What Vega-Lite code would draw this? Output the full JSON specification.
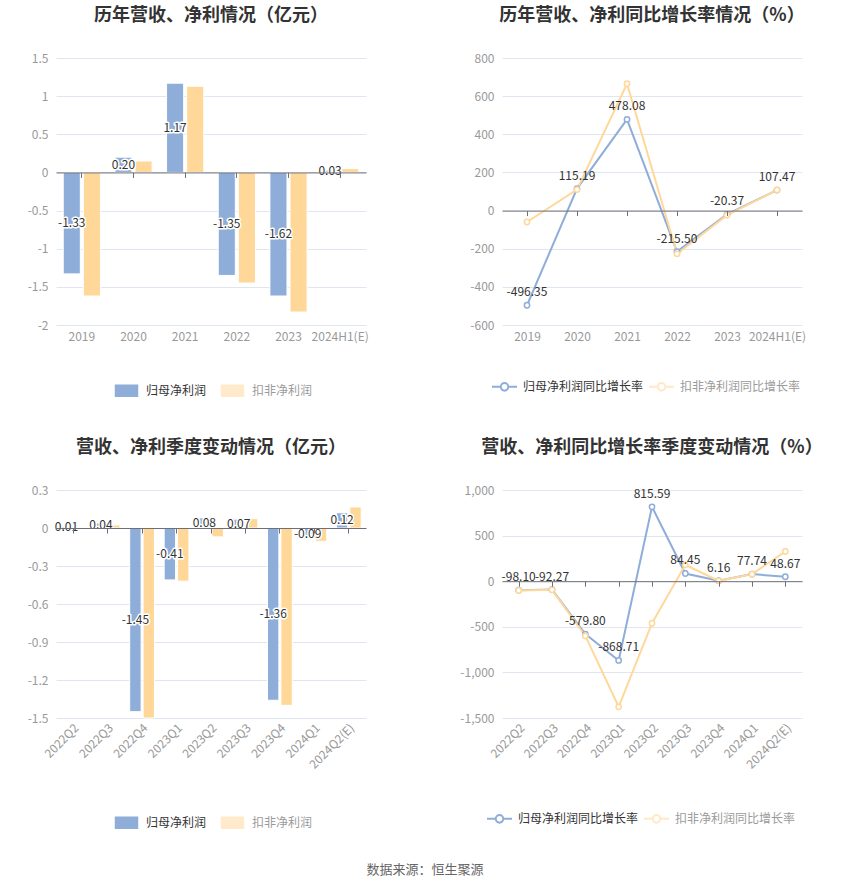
{
  "$schema": "https://vega.github.io/schema/vega-lite/v6.json",
  "background": "#ffffff",
  "padding": {"left": 27, "top": 7, "right": 10, "bottom": 10},
  "datasets": {
    "annualBar": [
      {"period": "2019", "series": "归母净利润", "value": -1.33},
      {"period": "2019", "series": "扣非净利润", "value": -1.62},
      {"period": "2020", "series": "归母净利润", "value": 0.20},
      {"period": "2020", "series": "扣非净利润", "value": 0.15},
      {"period": "2021", "series": "归母净利润", "value": 1.17},
      {"period": "2021", "series": "扣非净利润", "value": 1.13},
      {"period": "2022", "series": "归母净利润", "value": -1.35},
      {"period": "2022", "series": "扣非净利润", "value": -1.45},
      {"period": "2023", "series": "归母净利润", "value": -1.62},
      {"period": "2023", "series": "扣非净利润", "value": -1.83},
      {"period": "2024H1(E)", "series": "归母净利润", "value": 0.03},
      {"period": "2024H1(E)", "series": "扣非净利润", "value": 0.05}
    ],
    "annualGrowth": [
      {"period": "2019", "series": "归母净利润同比增长率", "value": -496.35},
      {"period": "2020", "series": "归母净利润同比增长率", "value": 115.19},
      {"period": "2021", "series": "归母净利润同比增长率", "value": 478.08},
      {"period": "2022", "series": "归母净利润同比增长率", "value": -215.50},
      {"period": "2023", "series": "归母净利润同比增长率", "value": -20.37},
      {"period": "2024H1(E)", "series": "归母净利润同比增长率", "value": 107.47},
      {"period": "2019", "series": "扣非净利润同比增长率", "value": -60},
      {"period": "2020", "series": "扣非净利润同比增长率", "value": 110},
      {"period": "2021", "series": "扣非净利润同比增长率", "value": 665},
      {"period": "2022", "series": "扣非净利润同比增长率", "value": -227},
      {"period": "2023", "series": "扣非净利润同比增长率", "value": -24},
      {"period": "2024H1(E)", "series": "扣非净利润同比增长率", "value": 108}
    ],
    "quarterBar": [
      {"period": "2022Q2", "series": "归母净利润", "value": 0.01},
      {"period": "2022Q2", "series": "扣非净利润", "value": 0.003},
      {"period": "2022Q3", "series": "归母净利润", "value": 0.04},
      {"period": "2022Q3", "series": "扣非净利润", "value": 0.024},
      {"period": "2022Q4", "series": "归母净利润", "value": -1.45},
      {"period": "2022Q4", "series": "扣非净利润", "value": -1.50},
      {"period": "2023Q1", "series": "归母净利润", "value": -0.41},
      {"period": "2023Q1", "series": "扣非净利润", "value": -0.42},
      {"period": "2023Q2", "series": "归母净利润", "value": 0.08},
      {"period": "2023Q2", "series": "扣非净利润", "value": -0.07},
      {"period": "2023Q3", "series": "归母净利润", "value": 0.07},
      {"period": "2023Q3", "series": "扣非净利润", "value": 0.074},
      {"period": "2023Q4", "series": "归母净利润", "value": -1.36},
      {"period": "2023Q4", "series": "扣非净利润", "value": -1.40},
      {"period": "2024Q1", "series": "归母净利润", "value": -0.09},
      {"period": "2024Q1", "series": "扣非净利润", "value": -0.105},
      {"period": "2024Q2(E)", "series": "归母净利润", "value": 0.12},
      {"period": "2024Q2(E)", "series": "扣非净利润", "value": 0.166}
    ],
    "quarterGrowth": [
      {"period": "2022Q2", "series": "归母净利润同比增长率", "value": -98.10},
      {"period": "2022Q3", "series": "归母净利润同比增长率", "value": -92.27},
      {"period": "2022Q4", "series": "归母净利润同比增长率", "value": -579.80},
      {"period": "2023Q1", "series": "归母净利润同比增长率", "value": -868.71},
      {"period": "2023Q2", "series": "归母净利润同比增长率", "value": 815.59},
      {"period": "2023Q3", "series": "归母净利润同比增长率", "value": 84.45},
      {"period": "2023Q4", "series": "归母净利润同比增长率", "value": 6.16},
      {"period": "2024Q1", "series": "归母净利润同比增长率", "value": 77.74},
      {"period": "2024Q2(E)", "series": "归母净利润同比增长率", "value": 48.67},
      {"period": "2022Q2", "series": "扣非净利润同比增长率", "value": -102},
      {"period": "2022Q3", "series": "扣非净利润同比增长率", "value": -95},
      {"period": "2022Q4", "series": "扣非净利润同比增长率", "value": -600},
      {"period": "2023Q1", "series": "扣非净利润同比增长率", "value": -1377},
      {"period": "2023Q2", "series": "扣非净利润同比增长率", "value": -461},
      {"period": "2023Q3", "series": "扣非净利润同比增长率", "value": 180},
      {"period": "2023Q4", "series": "扣非净利润同比增长率", "value": 4},
      {"period": "2024Q1", "series": "扣非净利润同比增长率", "value": 77},
      {"period": "2024Q2(E)", "series": "扣非净利润同比增长率", "value": 326}
    ]
  },
  "title": {
    "text": "数据来源：恒生聚源",
    "orient": "bottom",
    "anchor": "middle",
    "fontSize": 13,
    "fontWeight": "normal",
    "color": "#666666",
    "offset": 31
  },
  "columns": 2,
  "bounds": "flush",
  "spacing": {"row": 165, "column": 136},
  "resolve": {"scale": {"color": "independent", "xOffset": "independent", "x": "independent", "y": "independent"}, "legend": {"color": "independent"}},
  "concat": [
    {
      "width": 310,
      "height": 267,
      "title": {"text": "历年营收、净利情况（亿元）", "offset": 27},
      "data": {"name": "annualBar"},
      "layer": [
        {
          "mark": {"type": "bar", "stroke": "#ffffff", "strokeWidth": 1},
          "encoding": {
            "x": {"field": "period", "type": "nominal", "sort": null, "title": null,
              "scale": {"paddingInner": 0.28, "paddingOuter": 0.14},
              "axis": {"labelAngle": 0, "labelPadding": 6, "ticks": false, "domain": false, "grid": false}},
            "xOffset": {"field": "series", "type": "nominal", "scale": {"domain": ["归母净利润", "扣非净利润"], "paddingInner": 0.15}},
            "y": {"field": "value", "type": "quantitative", "title": null,
              "scale": {"domain": [-2, 1.5], "nice": false, "zero": false},
              "axis": {"values": [-2, -1.5, -1, -0.5, 0, 0.5, 1, 1.5], "format": "~g", "grid": true, "labelPadding": 8}},
            "color": {"field": "series", "type": "nominal",
              "scale": {"domain": ["归母净利润", "扣非净利润"], "range": ["#8fadd9", "#ffd899"]},
              "legend": {"orient": "none", "legendX": 57, "legendY": 319, "direction": "horizontal", "title": null,
                "symbolType": "M-1,-0.56H1V0.56H-1Z", "symbolSize": 625, "labelOffset": 6, "columnPadding": 10,
                "labelColor": {"expr": "datum.value === '扣非净利润' ? '#9a9a9a' : '#333333'"},
                "symbolOpacity": {"expr": "datum.value === '扣非净利润' ? 0.5 : 1"}}}
          }
        },
        {
          "transform": [{"filter": "datum.series === '归母净利润'"}],
          "mark": {"type": "text", "stroke": "#ffffff", "strokeWidth": 3, "strokeJoin": "round", "fill": "#333333", "fontSize": 12},
          "encoding": {
            "x": {"field": "period", "type": "nominal", "sort": null, "title": null,
              "axis": {"orient": "bottom", "offset": -152.57, "labels": false, "domain": true, "domainColor": "#6E7079", "ticks": true, "tickColor": "#6E7079", "tickSize": 5, "grid": false, "zindex": 1}},
            "xOffset": {"field": "series", "type": "nominal", "scale": {"domain": ["归母净利润", "扣非净利润"], "paddingInner": 0.15}},
            "y": {"field": "value", "type": "quantitative", "scale": {"domain": [-4, 3], "nice": false, "zero": false}, "axis": null},
            "text": {"field": "value", "type": "quantitative", "format": ".2f"}
          }
        },
        {
          "transform": [{"filter": "datum.series === '归母净利润'"}],
          "mark": {"type": "text", "fill": "#333333", "fontSize": 12},
          "encoding": {
            "x": {"field": "period", "type": "nominal", "sort": null, "axis": null},
            "xOffset": {"field": "series", "type": "nominal", "scale": {"domain": ["归母净利润", "扣非净利润"], "paddingInner": 0.15}},
            "y": {"field": "value", "type": "quantitative", "scale": {"domain": [-4, 3], "nice": false, "zero": false}, "axis": null},
            "text": {"field": "value", "type": "quantitative", "format": ".2f"}
          }
        }
      ],
      "resolve": {"scale": {"y": "independent"}, "axis": {"x": "independent", "y": "independent"}}
    },
    {
      "width": 300,
      "height": 267,
      "title": {"text": "历年营收、净利同比增长率情况（%）", "offset": 27},
      "data": {"name": "annualGrowth"},
      "layer": [
        {
          "mark": {"type": "line", "strokeWidth": 2, "point": {"filled": false, "fill": "#ffffff", "size": 28, "strokeWidth": 1.5}},
          "encoding": {
            "x": {"field": "period", "type": "nominal", "sort": null, "title": null,
              "scale": {"type": "point", "padding": 0.5},
              "axis": {"labelAngle": 0, "labelPadding": 6, "ticks": false, "domain": false, "grid": false}},
            "y": {"field": "value", "type": "quantitative", "title": null,
              "scale": {"domain": [-600, 800], "nice": false, "zero": false},
              "axis": {"values": [-600, -400, -200, 0, 200, 400, 600, 800], "format": "d", "grid": true, "labelPadding": 8}},
            "color": {"field": "series", "type": "nominal",
              "scale": {"domain": ["归母净利润同比增长率", "扣非净利润同比增长率"], "range": ["#8fadd9", "#ffd899"]},
              "legend": {"orient": "none", "legendX": -7, "legendY": 319, "direction": "horizontal", "title": null,
                "symbolType": "M-1.5,0H-0.45M0.45,0H1.5M0.45,0A0.45,0.45,0,1,1,-0.45,0A0.45,0.45,0,1,1,0.45,0",
                "symbolSize": 278, "symbolStrokeWidth": 2, "labelOffset": 9, "columnPadding": 0,
                "encode": {
                  "labels": {"update": {"fill": {"signal": "datum.value === '扣非净利润同比增长率' ? '#9a9a9a' : '#333333'"}}},
                  "symbols": {"update": {"fill": {"value": "#ffffff"}, "opacity": {"signal": "datum.value === '扣非净利润同比增长率' ? 0.55 : 1"}}}
                }}}
          }
        },
        {
          "transform": [{"filter": "datum.series === '归母净利润同比增长率'"}],
          "mark": {"type": "text", "dy": -13, "fill": "#333333", "fontSize": 12},
          "encoding": {
            "x": {"field": "period", "type": "nominal", "sort": null, "title": null,
              "axis": {"orient": "bottom", "offset": -114.43, "labels": false, "domain": true, "domainColor": "#6E7079", "ticks": true, "tickColor": "#6E7079", "tickSize": 5, "grid": false, "zindex": 1}},
            "y": {"field": "value", "type": "quantitative", "title": null,
              "axis": {"values": [-600, -400, -200, 0, 200, 400, 600, 800], "format": "d", "grid": true, "labelPadding": 8}},
            "text": {"field": "value", "type": "quantitative", "format": ".2f"}
          }
        }
      ],
      "resolve": {"axis": {"x": "independent"}}
    },
    {
      "width": 310,
      "height": 228,
      "title": {"text": "营收、净利季度变动情况（亿元）", "offset": 27},
      "data": {"name": "quarterBar"},
      "layer": [
        {
          "mark": {"type": "bar", "stroke": "#ffffff", "strokeWidth": 1},
          "encoding": {
            "x": {"field": "period", "type": "nominal", "sort": null, "title": null,
              "scale": {"paddingInner": 0.28, "paddingOuter": 0.14},
              "axis": {"labelAngle": -45, "labelAlign": "right", "labelBaseline": "top", "labelPadding": 4, "ticks": false, "domain": false, "grid": false}},
            "xOffset": {"field": "series", "type": "nominal", "scale": {"domain": ["归母净利润", "扣非净利润"], "paddingInner": 0.15}},
            "y": {"field": "value", "type": "quantitative", "title": null,
              "scale": {"domain": [-1.5, 0.3], "nice": false, "zero": false},
              "axis": {"values": [-1.5, -1.2, -0.9, -0.6, -0.3, 0, 0.3], "format": "~g", "grid": true, "labelPadding": 8}},
            "color": {"field": "series", "type": "nominal",
              "scale": {"domain": ["归母净利润", "扣非净利润"], "range": ["#8fadd9", "#ffd899"]},
              "legend": {"orient": "none", "legendX": 57, "legendY": 319, "direction": "horizontal", "title": null,
                "symbolType": "M-1,-0.56H1V0.56H-1Z", "symbolSize": 625, "labelOffset": 6, "columnPadding": 10,
                "labelColor": {"expr": "datum.value === '扣非净利润' ? '#9a9a9a' : '#333333'"},
                "symbolOpacity": {"expr": "datum.value === '扣非净利润' ? 0.5 : 1"}}}
          }
        },
        {
          "transform": [{"filter": "datum.series === '归母净利润'"}],
          "mark": {"type": "text", "stroke": "#ffffff", "strokeWidth": 3, "strokeJoin": "round", "fill": "#333333", "fontSize": 12},
          "encoding": {
            "x": {"field": "period", "type": "nominal", "sort": null, "title": null,
              "axis": {"orient": "bottom", "offset": -190, "labels": false, "domain": true, "domainColor": "#6E7079", "ticks": true, "tickColor": "#6E7079", "tickSize": 5, "grid": false, "zindex": 1}},
            "xOffset": {"field": "series", "type": "nominal", "scale": {"domain": ["归母净利润", "扣非净利润"], "paddingInner": 0.15}},
            "y": {"field": "value", "type": "quantitative", "scale": {"domain": [-3, 0.6], "nice": false, "zero": false}, "axis": null},
            "text": {"field": "value", "type": "quantitative", "format": ".2f"}
          }
        },
        {
          "transform": [{"filter": "datum.series === '归母净利润'"}],
          "mark": {"type": "text", "fill": "#333333", "fontSize": 12},
          "encoding": {
            "x": {"field": "period", "type": "nominal", "sort": null, "axis": null},
            "xOffset": {"field": "series", "type": "nominal", "scale": {"domain": ["归母净利润", "扣非净利润"], "paddingInner": 0.15}},
            "y": {"field": "value", "type": "quantitative", "scale": {"domain": [-3, 0.6], "nice": false, "zero": false}, "axis": null},
            "text": {"field": "value", "type": "quantitative", "format": ".2f"}
          }
        }
      ],
      "resolve": {"scale": {"y": "independent"}, "axis": {"x": "independent", "y": "independent"}}
    },
    {
      "width": 300,
      "height": 228,
      "title": {"text": "营收、净利同比增长率季度变动情况（%）", "offset": 27},
      "data": {"name": "quarterGrowth"},
      "layer": [
        {
          "mark": {"type": "line", "strokeWidth": 2, "point": {"filled": false, "fill": "#ffffff", "size": 28, "strokeWidth": 1.5}},
          "encoding": {
            "x": {"field": "period", "type": "nominal", "sort": null, "title": null,
              "scale": {"type": "point", "padding": 0.5},
              "axis": {"labelAngle": -45, "labelAlign": "right", "labelBaseline": "top", "labelPadding": 4, "ticks": false, "domain": false, "grid": false}},
            "y": {"field": "value", "type": "quantitative", "title": null,
              "scale": {"domain": [-1500, 1000], "nice": false, "zero": false},
              "axis": {"values": [-1500, -1000, -500, 0, 500, 1000], "format": ",d", "grid": true, "labelPadding": 8}},
            "color": {"field": "series", "type": "nominal",
              "scale": {"domain": ["归母净利润同比增长率", "扣非净利润同比增长率"], "range": ["#8fadd9", "#ffd899"]},
              "legend": {"orient": "none", "legendX": -12, "legendY": 319, "direction": "horizontal", "title": null,
                "symbolType": "M-1.5,0H-0.45M0.45,0H1.5M0.45,0A0.45,0.45,0,1,1,-0.45,0A0.45,0.45,0,1,1,0.45,0",
                "symbolSize": 278, "symbolStrokeWidth": 2, "labelOffset": 9, "columnPadding": 0,
                "encode": {
                  "labels": {"update": {"fill": {"signal": "datum.value === '扣非净利润同比增长率' ? '#9a9a9a' : '#333333'"}}},
                  "symbols": {"update": {"fill": {"value": "#ffffff"}, "opacity": {"signal": "datum.value === '扣非净利润同比增长率' ? 0.55 : 1"}}}
                }}}
          }
        },
        {
          "transform": [{"filter": "datum.series === '归母净利润同比增长率'"}],
          "mark": {"type": "text", "dy": -13, "fill": "#333333", "fontSize": 12},
          "encoding": {
            "x": {"field": "period", "type": "nominal", "sort": null, "title": null,
              "axis": {"orient": "bottom", "offset": -136.8, "labels": false, "domain": true, "domainColor": "#6E7079", "ticks": true, "tickColor": "#6E7079", "tickSize": 5, "grid": false, "zindex": 1}},
            "y": {"field": "value", "type": "quantitative", "title": null,
              "axis": {"values": [-1500, -1000, -500, 0, 500, 1000], "format": ",d", "grid": true, "labelPadding": 8}},
            "text": {"field": "value", "type": "quantitative", "format": ".2f"}
          }
        }
      ],
      "resolve": {"axis": {"x": "independent"}}
    }
  ],
  "config": {
    "locale": {"number": {"decimal": ".", "thousands": ",", "grouping": [3], "currency": ["", ""], "minus": "-"}},
    "font": "Noto Sans CJK SC",
    "view": {"stroke": null},
    "axis": {"labelFont": "Noto Sans CJK SC", "labelFontSize": 12, "labelColor": "#999999", "gridColor": "#E0E6F1", "gridWidth": 1, "domain": false, "ticks": false},
    "legend": {"labelFont": "Noto Sans CJK SC", "labelFontSize": 12, "labelColor": "#333333", "labelLimit": 200},
    "title": {"font": "Noto Sans CJK SC", "fontSize": 18, "fontWeight": "bold", "color": "#333333", "anchor": "middle"},
    "text": {"font": "Noto Sans CJK SC"}
  }
}
